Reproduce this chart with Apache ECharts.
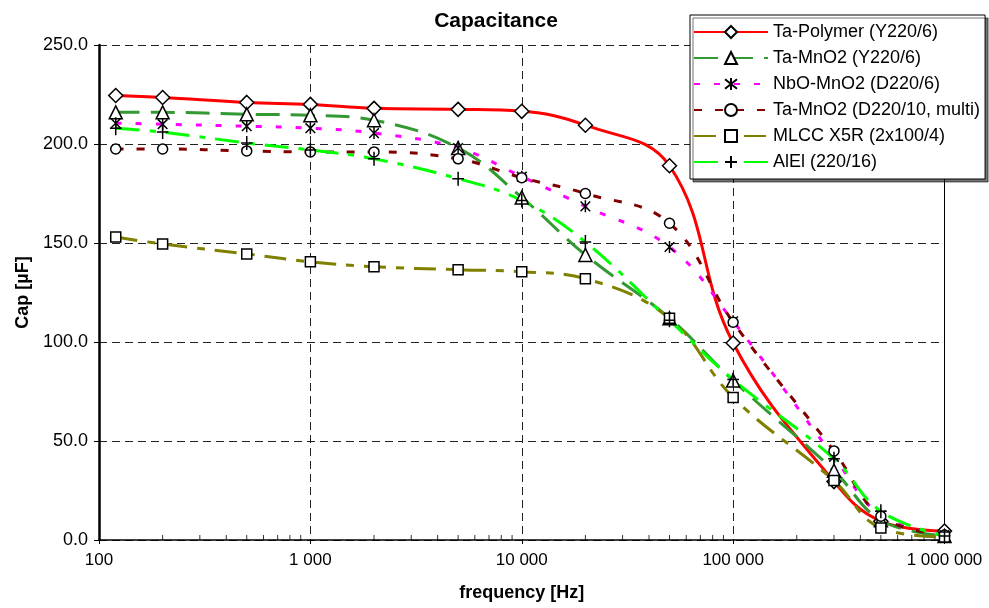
<!doctype html>
<html>
<head>
    <meta charset="utf-8"/>
    <title>Capacitance</title>
    <script src="https://cdn.jsdelivr.net/npm/echarts@6/dist/echarts.min.js"></script>
    <style>
        html, body { margin: 0; padding: 0; background: #fff; }
        #chart { width: 989px; height: 608px; }
    </style>
</head>
<body>
<div id="chart"></div>
<script>
    // measurement frequencies [Hz]
    var freqs = [120, 200, 500, 1000, 2000, 5000, 10000, 20000, 50000, 100000, 300000, 500000, 1000000];

    // capacitance [uF]
    var taPolymer = [224.5, 223.5, 221, 220, 218, 217.5, 216.5, 209.5, 189, 99.5, 29.5, 9.5, 4.5];
    var taMnO2Y = [216, 216, 215, 214.5, 212, 198, 173, 144, 112, 80.5, 35, 10, 2];
    var nboMnO2 = [210.5, 210, 209, 208, 205.5, 198, 183.5, 168.5, 148, 110.5, 42, 12.5, 2.5];
    var taMnO2D = [197.5, 197.5, 196.5, 196, 196, 192.5, 183, 175, 160, 110, 45, 12, 2.5];
    var mlcc = [153, 149.5, 144.5, 140.5, 138, 136.5, 135.5, 132, 112, 72, 30, 6, 1.5];
    var alEl = [208, 206, 200.5, 197, 192.5, 182.5, 171.5, 150.5, 111, 81, 41, 14.5, 2];

    var seriesNames = [
        "Ta-Polymer (Y220/6)",
        "Ta-MnO2 (Y220/6)",
        "NbO-MnO2 (D220/6)",
        "Ta-MnO2 (D220/10, multi)",
        "MLCC X5R (2x100/4)",
        "AlEl (220/16)"
    ];
    var yTicks = [0, 50, 100, 150, 200, 250];
    var xDecades = [100, 1000, 10000, 100000, 1000000];

    // minor log ticks 2..9 in every decade (axis decoration only)
    var minorTicks = [];
    for (var d = 0; d < xDecades.length - 1; d++) {
        for (var m = 2; m <= 9; m++) {
            minorTicks.push([xDecades[d] * m, 0]);
        }
    }

    var font = "'Liberation Sans', Arial, sans-serif";
    var asterisk = "path://M1,1L9,9M9,1L1,9M5,0L5,10";
    var plus = "path://M0,5L10,5M5,-1L5,11";

    function pairs(vals) {
        return freqs.map(function (f, i) { return [f, vals[i]]; });
    }

    function mk(name, vals, color, dash, symbol, size) {
        return {
            name: name,
            type: "line",
            data: pairs(vals),
            smooth: 0.4,
            symbol: symbol,
            symbolSize: size,
            symbolKeepAspect: true,
            showAllSymbol: true,
            lineStyle: { color: color, width: 3, type: dash },
            itemStyle: { color: "#fff", borderColor: "#000", borderWidth: 1.5 },
            emphasis: { disabled: true }
        };
    }

    var chart = echarts.init(document.getElementById("chart"));

    var option = {
        animation: false,
        backgroundColor: "#fff",
        textStyle: { fontFamily: font },
        title: {
            text: "Capacitance",
            left: 491,
            textAlign: "center",
            top: 6,
            textStyle: { fontFamily: font, fontSize: 21, fontWeight: "bold", color: "#000" }
        },
        legend: {
            data: seriesNames,
            orient: "vertical",
            left: 690,
            top: 15,
            backgroundColor: "#fff",
            borderColor: "#000",
            borderWidth: 1,
            padding: [8, 5, 8, 3],
            shadowColor: "rgba(0,0,0,0.55)",
            shadowOffsetX: 3,
            shadowOffsetY: 3,
            shadowBlur: 0,
            itemWidth: 74,
            itemHeight: 15,
            itemGap: 8,
            textStyle: { fontFamily: font, fontSize: 18, color: "#000" }
        },
        grid: { left: 99, right: 44.5, top: 45, bottom: 68 },
        xAxis: {
            type: "log",
            min: 100,
            max: 1000000,
            name: "frequency [Hz]",
            nameLocation: "middle",
            nameGap: 44,
            nameTextStyle: { fontFamily: font, fontSize: 18, fontWeight: "bold", color: "#000" },
            axisLine: { lineStyle: { color: "#000", width: 1.5 } },
            axisTick: { show: true, length: 4, lineStyle: { color: "#000" } },
            axisLabel: {
                fontFamily: font,
                fontSize: 17,
                color: "#000",
                margin: 12,
                formatter: function (v) {
                    return String(Math.round(v)).replace(/\B(?=(\d{3})+(?!\d))/g, " ");
                }
            },
            splitLine: { show: true, lineStyle: { color: "#222", width: 1, type: [8, 5] } }
        },
        yAxis: [{
            type: "value",
            min: yTicks[0],
            max: yTicks[yTicks.length - 1],
            interval: 50,
            name: "Cap [µF]",
            nameLocation: "middle",
            nameGap: 66,
            nameTextStyle: { fontFamily: font, fontSize: 18, fontWeight: "bold", color: "#000" },
            axisLine: { show: true, lineStyle: { color: "#000", width: 2.5 } },
            axisTick: { show: true, length: 5, lineStyle: { color: "#000" } },
            axisLabel: {
                fontFamily: font,
                fontSize: 18,
                color: "#000",
                margin: 11,
                formatter: function (v) { return v.toFixed(1); }
            },
            splitLine: { show: true, lineStyle: { color: "#222", width: 1, type: [8, 5] } }
        }, {
            type: "value",
            position: "right",
            min: yTicks[0],
            max: yTicks[yTicks.length - 1],
            interval: 50,
            axisLine: { show: true, lineStyle: { color: "#000", width: 1 } },
            axisTick: { show: false },
            axisLabel: { show: false },
            splitLine: { show: false }
        }],
        series: [
            {
                name: "minor ticks",
                type: "scatter",
                data: minorTicks,
                symbol: "rect",
                symbolSize: [1, 5],
                symbolOffset: [0, "-50%"],
                itemStyle: { color: "#000" },
                silent: true,
                clip: false,
                z: 1
            },
            mk(seriesNames[0], taPolymer, "#ff0000", "solid", "diamond", 14),
            mk(seriesNames[1], taMnO2Y, "#339933", [24, 11], "triangle", 13),
            mk(seriesNames[2], nboMnO2, "#ff00ff", [6, 14], asterisk, 12),
            mk(seriesNames[3], taMnO2D, "#800000", [8, 13], "circle", 10),
            mk(seriesNames[4], mlcc, "#808000", [22, 10, 8, 10], "rect", 10),
            mk(seriesNames[5], alEl, "#00ff00", [24, 10, 6, 10], plus, 14)
        ]
    };

    chart.setOption(option);

    window.onresize = function () {
        chart.resize();
    };
</script>
</body>
</html>
